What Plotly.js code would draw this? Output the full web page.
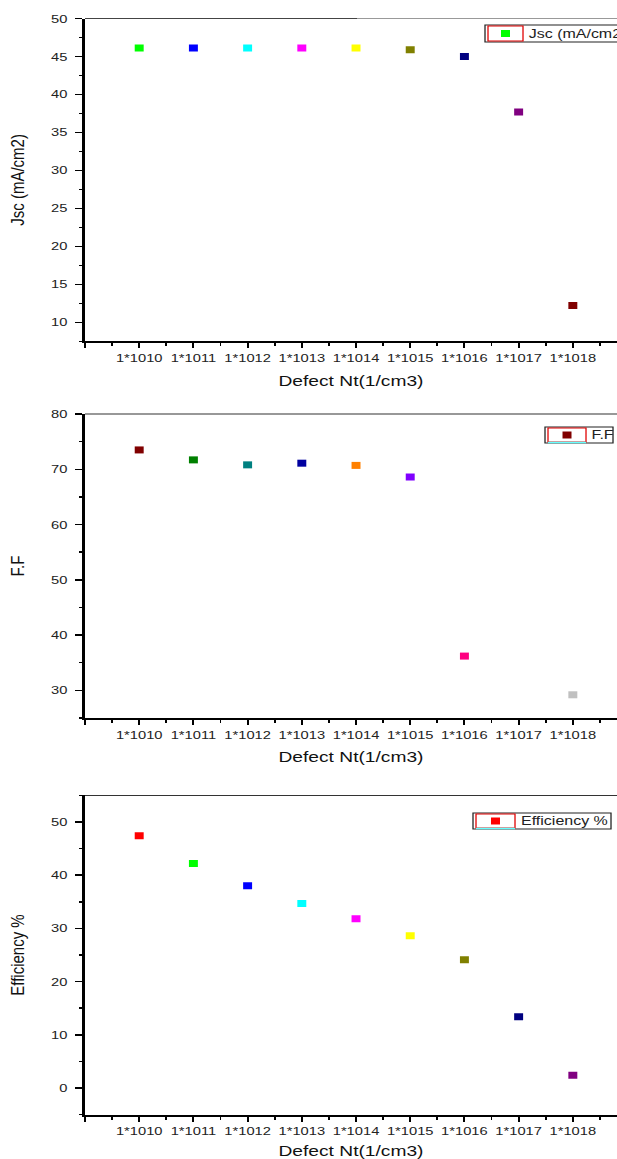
<!DOCTYPE html>
<html>
<head>
<meta charset="utf-8">
<script src="https://cdn.plot.ly/plotly-3.0.1.min.js"></script>
<style>
  html, body { margin: 0; padding: 0; background: #fff; overflow: hidden; }
  #wrap { width: 617px; height: 1159px; overflow: hidden; }
  /* the figure is laid out narrow and widened horizontally */
  #chart { width: 482px; height: 1159px; transform: scaleX(1.2801); transform-origin: 0 0; }
</style>
</head>
<body>
<div id="wrap"><div id="chart"></div></div>
<script>
// Defect density levels (x categories)
const defectLevels = ['1*1010', '1*1011', '1*1012', '1*1013', '1*1014', '1*1015', '1*1016', '1*1017', '1*1018'];

// Short-circuit current density
const jscName = 'Jsc (mA/cm2)';
const jscValues = [46.1, 46.1, 46.1, 46.1, 46.1, 45.9, 45.0, 37.7, 12.2];
const jscColors = ['#00FF00', '#0000FF', '#00FFFF', '#FF00FF', '#FFFF00', '#808000', '#000080', '#800080', '#800000'];

// Fill factor (no point at 1*1017)
const ffName = 'F.F';
const ffValues = [73.5, 71.7, 70.8, 71.1, 70.7, 68.6, 36.2, null, 29.2];
const ffColors = ['#800000', '#008000', '#008080', '#0000A0', '#FF8000', '#8000FF', '#FF0080', '#000000', '#C0C0C0'];

// Efficiency
const effName = 'Efficiency %';
const effValues = [47.4, 42.2, 38.0, 34.7, 31.8, 28.6, 24.1, 13.4, 2.4];
const effColors = ['#FF0000', '#00FF00', '#0000FF', '#00FFFF', '#FF00FF', '#FFFF00', '#808000', '#000080', '#800080'];

const xIndex = defectLevels.map((_, i) => i);

const FONT = 'Liberation Sans, Arial, sans-serif';
const W = 617, H = 1159;
const px = v => v / W;          // horizontal pixel -> paper
const py = v => 1 - v / H;      // vertical pixel -> paper

function markerTrace(values, colors, name, n) {
  const sfx = n === 1 ? '' : String(n);
  return {
    type: 'scatter', mode: 'markers',
    x: xIndex, y: values,
    xaxis: 'x' + sfx, yaxis: 'y' + sfx,
    name: name,
    showlegend: false,
    marker: { symbol: 'square', size: 7, color: colors, line: { width: 0 } },
    hoverinfo: 'x+y'
  };
}

function xAxis(n) {
  return {
    domain: [px(85), 1],
    anchor: 'y' + (n === 1 ? '' : n),
    range: [-1, 8.815],
    tickmode: 'array',
    tickvals: [-1].concat(xIndex),
    ticktext: [''].concat(defectLevels),
    ticks: 'outside', ticklen: 5, tickwidth: 1.5, tickcolor: '#000',
    minor: { tickmode: 'linear', tick0: -0.5, dtick: 1, ticks: 'outside', ticklen: 3, tickwidth: 1.5, tickcolor: '#000' },
    showline: true, linewidth: 2, linecolor: '#000',
    showgrid: false, zeroline: false,
    tickfont: { family: FONT, size: 11.5, color: '#222' },
    title: { text: 'Defect Nt(1/cm3)', font: { family: FONT, size: 15, color: '#111' }, standoff: 12 }
  };
}

function yAxis(n, top, bottom, range, dtick, title) {
  return {
    domain: [py(bottom), py(top)],
    anchor: 'x' + (n === 1 ? '' : n),
    range: range,
    dtick: dtick, tick0: 0,
    ticks: 'outside', ticklen: 5.5, tickwidth: 1.5, tickcolor: '#000',
    ticklabelstandoff: 4,
    minor: { dtick: dtick / 2, ticks: 'outside', ticklen: 3, tickwidth: 1.5, tickcolor: '#000' },
    showline: true, linewidth: 2, linecolor: '#000',
    showgrid: false, zeroline: false,
    tickfont: { family: FONT, size: 11.5, color: '#222' },
    title: { text: title, font: { family: FONT, size: 15, color: '#111' }, standoff: 17 }
  };
}

const line = (x0, x1, y, color, width) => ({
  type: 'line', xref: 'paper', yref: 'paper',
  x0: px(x0), x1: px(x1), y0: py(y), y1: py(y),
  line: { color: color, width: width }
});
const rect = (x0, x1, y0, y1, color, fill) => ({
  type: 'rect', xref: 'paper', yref: 'paper',
  x0: px(x0), x1: px(x1), y0: py(y1), y1: py(y0),
  line: { color: color, width: fill ? 0 : 1 }, fillcolor: fill || 'rgba(0,0,0,0)'
});

// Framed legend: outer box, red symbol frame, swatch and label
function legendParts(x0, x1, y0, y1, frameRight, swatchColor, label, underline) {
  const cx = (x0 + 3 + frameRight) / 2, cy = (y0 + y1) / 2;
  const shapes = [
    rect(x0, x1, y0, y1, '#222', '#fff'),
    rect(x0, x1, y0, y1, '#222'),
    rect(x0 + 3, frameRight, y0 + 1, y1 - 1, '#E00000'),
    rect(cx - 4.5, cx + 4.5, cy - 3.5, cy + 3.5, null, swatchColor)
  ];
  if (underline) shapes.push(line(x0 + 3, frameRight, y1 - 0.5, '#66FFFF', 1.5));
  const ann = {
    xref: 'paper', yref: 'paper', x: px(frameRight + 3), y: py(cy),
    xanchor: 'left', yanchor: 'middle', showarrow: false,
    text: label, font: { family: FONT, size: 12.5, color: '#222' }
  };
  return { shapes, ann };
}

const lg1 = legendParts(485, 660, 25, 42, 523, jscColors[0], jscName, false);
const lg2 = legendParts(545, 613, 427, 443, 586, ffColors[0], ffName, true);
const lg3 = legendParts(473, 611, 813, 829, 515, effColors[0], effName, true);

const data = [
  markerTrace(jscValues, jscColors, jscName, 1),
  markerTrace(ffValues, ffColors, ffName, 2),
  markerTrace(effValues, effColors, effName, 3)
];

const layout = {
  width: 482, height: H,
  margin: { l: 0, r: 0, t: 0, b: 0, autoexpand: false },
  paper_bgcolor: '#fff', plot_bgcolor: '#fff',
  font: { family: FONT, color: '#222' },
  showlegend: false,
  xaxis: xAxis(1), yaxis: yAxis(1, 18.5, 341.3, [7.5, 50], 5, jscName),
  xaxis2: xAxis(2), yaxis2: yAxis(2, 414, 718, [25, 80], 10, ffName),
  xaxis3: xAxis(3), yaxis3: yAxis(3, 795.4, 1114.6, [-5, 55], 10, effName),
  shapes: [
    // upper frame edges
    line(85, 357, 18.5, '#444', 1),
    line(357, 617, 18.5, '#999', 1),
    line(85, 617, 414, '#333', 1),
    line(85, 617, 795.4, '#333', 1)
  ].concat(lg1.shapes, lg2.shapes, lg3.shapes),
  annotations: [lg1.ann, lg2.ann, lg3.ann]
};

Plotly.newPlot('chart', data, layout, { staticPlot: true, displayModeBar: false });
</script>
</body>
</html>
